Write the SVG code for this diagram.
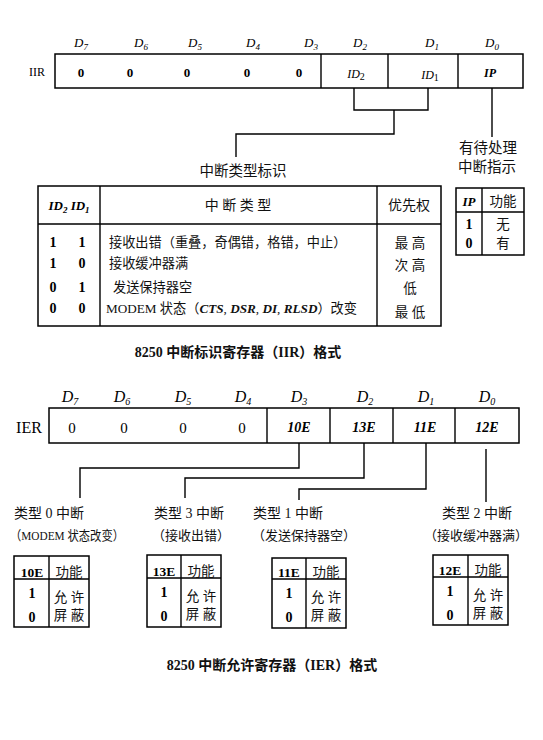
<svg xmlns="http://www.w3.org/2000/svg" width="543" height="740" viewBox="0 0 543 740">
<style>
.ln{fill:none;stroke:#000;stroke-width:1.4}
.bx{fill:#fff;stroke:#000;stroke-width:1.5}
.t{font-family:"Liberation Serif","Noto Sans CJK SC",serif;fill:#000}
.c{text-anchor:middle}
.i{font-style:italic}
.b{font-weight:bold}
.cn{font-family:"Liberation Serif","Noto Sans CJK SC",serif;fill:#111}
</style>
<rect width="543" height="740" fill="#fff"/>

<g id="iir-register">
  <g class="t i c" font-size="13">
    <text x="81" y="47">D<tspan font-size="9" dy="3">7</tspan></text>
    <text x="141" y="47">D<tspan font-size="9" dy="3">6</tspan></text>
    <text x="195" y="47">D<tspan font-size="9" dy="3">5</tspan></text>
    <text x="253" y="47">D<tspan font-size="9" dy="3">4</tspan></text>
    <text x="311" y="47">D<tspan font-size="9" dy="3">3</tspan></text>
    <text x="360" y="47">D<tspan font-size="9" dy="3">2</tspan></text>
    <text x="432" y="47">D<tspan font-size="9" dy="3">1</tspan></text>
    <text x="492" y="47">D<tspan font-size="9" dy="3">0</tspan></text>
  </g>
  <text class="t c" x="37" y="76" font-size="12">IIR</text>
  <rect class="bx" x="55" y="54" width="468" height="34"/>
  <path class="ln" d="M321,54V88M388,54V88M458,54V88"/>
  <g class="t c b" font-size="13">
    <text x="81" y="77">0</text>
    <text x="130" y="77">0</text>
    <text x="187" y="77">0</text>
    <text x="247" y="77">0</text>
    <text x="299" y="77">0</text>
  </g>
  <g class="t c i" font-size="12">
    <text x="356" y="78">ID<tspan font-size="10" dy="2" font-style="normal">2</tspan></text>
    <text x="430" y="79">ID<tspan font-size="10" dy="2" font-style="normal">1</tspan></text>
    <text x="490" y="77" font-weight="bold">IP</text>
  </g>
</g>

<g id="connectors">
  <path class="ln" d="M354,88V110H428V88"/>
  <path class="ln" d="M394,110V134H236V157"/>
  <path class="ln" d="M492,88V137"/>
  <path class="ln" d="M299,443V468H80V498"/>
  <path class="ln" d="M364,443V478H185V498"/>
  <path class="ln" d="M426,443V489H299V500"/>
  <path class="ln" d="M486,449V502"/>
</g>

<g id="label-type-id">
  <text class="cn c" x="243" y="176" font-size="14.5">中断类型标识</text>
</g>
<g id="label-ip">
  <text class="cn c" x="488" y="153" font-size="14.5">有待处理</text>
  <text class="cn c" x="487" y="172" font-size="14.5">中断指示</text>
</g>

<g id="iir-type-table">
  <rect class="bx" x="38" y="186" width="403" height="140"/>
  <path class="ln" d="M38,224H441M100,186V326M377,186V326"/>
  <text class="t c i b" x="69" y="210" font-size="13">ID<tspan font-size="9" dy="3">2</tspan><tspan dy="-3"> ID</tspan><tspan font-size="9" dy="3">1</tspan></text>
  <text class="cn c" x="238" y="210" font-size="14">中 断 类 型</text>
  <text class="cn c" x="409" y="210" font-size="14">优先权</text>
  <g class="t c b" font-size="14">
    <text x="53" y="247">1</text><text x="82" y="247">1</text>
    <text x="53" y="268">1</text><text x="82" y="268">0</text>
    <text x="53" y="292">0</text><text x="82" y="292">1</text>
    <text x="53" y="313">0</text><text x="82" y="313">0</text>
  </g>
  <g class="cn" font-size="13.2">
    <text x="109" y="247">接收出错（重叠，奇偶错，格错，中止）</text>
    <text x="109" y="268">接收缓冲器满</text>
    <text x="113" y="292">发送保持器空</text>
    <text x="106" y="313">MODEM 状态（<tspan font-style="italic" font-weight="bold">CTS</tspan>, <tspan font-style="italic" font-weight="bold">DSR</tspan>, <tspan font-style="italic" font-weight="bold">DI</tspan>, <tspan font-style="italic" font-weight="bold">RLSD</tspan>）改变</text>
  </g>
  <g class="cn c" font-size="13.5">
    <text x="410" y="248">最 高</text>
    <text x="410" y="270">次 高</text>
    <text x="410" y="293">低</text>
    <text x="410" y="317">最 低</text>
  </g>
</g>

<g id="ip-table">
  <rect class="bx" x="456" y="188" width="68" height="67"/>
  <path class="ln" d="M456,212H524M482,188V255"/>
  <text class="t c i b" x="469" y="206" font-size="13">IP</text>
  <text class="cn c" x="503" y="206" font-size="13.5">功能</text>
  <text class="t c b" x="469" y="229" font-size="14">1</text>
  <text class="cn c" x="503" y="229" font-size="13.5">无</text>
  <text class="t c b" x="469" y="248" font-size="14">0</text>
  <text class="cn c" x="503" y="248" font-size="13.5">有</text>
</g>

<g id="caption-iir">
  <text class="cn c b" x="238" y="357" font-size="14">8250 中断标识寄存器（IIR）格式</text>
</g>

<g id="ier-register">
  <g class="t i c" font-size="16">
    <text x="70" y="402">D<tspan font-size="10" dy="3">7</tspan></text>
    <text x="122" y="402">D<tspan font-size="10" dy="3">6</tspan></text>
    <text x="183" y="402">D<tspan font-size="10" dy="3">5</tspan></text>
    <text x="243" y="402">D<tspan font-size="10" dy="3">4</tspan></text>
    <text x="299" y="402">D<tspan font-size="10" dy="3">3</tspan></text>
    <text x="365" y="402">D<tspan font-size="10" dy="3">2</tspan></text>
    <text x="426" y="402">D<tspan font-size="10" dy="3">1</tspan></text>
    <text x="487" y="402">D<tspan font-size="10" dy="3">0</tspan></text>
  </g>
  <text class="t c" x="29" y="433" font-size="16">IER</text>
  <rect class="bx" x="49" y="408" width="470" height="35"/>
  <path class="ln" d="M267,408V443M330,408V443M393,408V443M455,408V443"/>
  <g class="t c" font-size="15">
    <text x="72" y="433">0</text>
    <text x="124" y="433">0</text>
    <text x="183" y="433">0</text>
    <text x="242" y="433">0</text>
  </g>
  <g class="t c i b" font-size="14">
    <text x="299" y="432">10E</text>
    <text x="364" y="432">13E</text>
    <text x="425" y="432">11E</text>
    <text x="487" y="432">12E</text>
  </g>
</g>

<g id="type0">
  <text class="cn" x="14" y="518" font-size="14">类型 0 中断</text>
  <text class="cn" x="10" y="540" font-size="13" textLength="114" lengthAdjust="spacingAndGlyphs">（MODEM 状态改变）</text>
  <rect class="bx" x="14" y="556" width="75" height="71"/>
  <path class="ln" d="M14,579H89M49,556V627"/>
  <text class="t c b" x="32" y="577" font-size="13.5">10E</text>
  <text class="cn c" x="69" y="577" font-size="13.5">功能</text>
  <text class="t c b" x="32" y="598" font-size="14">1</text>
  <text class="t c b" x="32" y="622" font-size="14">0</text>
  <text class="cn c" x="69" y="602" font-size="13.5">允 许</text>
  <text class="cn c" x="69" y="620" font-size="13.5">屏 蔽</text>
</g>

<g id="type3">
  <text class="cn" x="154" y="518" font-size="14">类型 3 中断</text>
  <text class="cn" x="152" y="540" font-size="13">（接收出错）</text>
  <rect class="bx" x="147" y="555" width="74" height="72"/>
  <path class="ln" d="M147,578H221M181,555V627"/>
  <text class="t c b" x="164" y="576" font-size="13.5">13E</text>
  <text class="cn c" x="201" y="576" font-size="13.5">功能</text>
  <text class="t c b" x="164" y="597" font-size="14">1</text>
  <text class="t c b" x="164" y="621" font-size="14">0</text>
  <text class="cn c" x="201" y="601" font-size="13.5">允 许</text>
  <text class="cn c" x="201" y="619" font-size="13.5">屏 蔽</text>
</g>

<g id="type1">
  <text class="cn" x="253" y="518" font-size="14">类型 1 中断</text>
  <text class="cn" x="252" y="540" font-size="13">（发送保持器空）</text>
  <rect class="bx" x="272" y="558" width="74" height="70"/>
  <path class="ln" d="M272,579H346M306,558V628"/>
  <text class="t c b" x="289" y="577" font-size="13.5">11E</text>
  <text class="cn c" x="326" y="577" font-size="13.5">功能</text>
  <text class="t c b" x="289" y="598" font-size="14">1</text>
  <text class="t c b" x="289" y="622" font-size="14">0</text>
  <text class="cn c" x="326" y="602" font-size="13.5">允 许</text>
  <text class="cn c" x="326" y="620" font-size="13.5">屏 蔽</text>
</g>

<g id="type2">
  <text class="cn" x="442" y="518" font-size="14">类型 2 中断</text>
  <text class="cn" x="424" y="540" font-size="13">（接收缓冲器满）</text>
  <rect class="bx" x="433" y="555" width="75" height="70"/>
  <path class="ln" d="M433,577H508M468,555V625"/>
  <text class="t c b" x="450" y="575" font-size="13.5">12E</text>
  <text class="cn c" x="488" y="575" font-size="13.5">功能</text>
  <text class="t c b" x="450" y="596" font-size="14">1</text>
  <text class="t c b" x="450" y="620" font-size="14">0</text>
  <text class="cn c" x="488" y="600" font-size="13.5">允 许</text>
  <text class="cn c" x="488" y="618" font-size="13.5">屏 蔽</text>
</g>

<g id="caption-ier">
  <text class="cn c b" x="272" y="670" font-size="14">8250 中断允许寄存器（IER）格式</text>
</g>
</svg>
